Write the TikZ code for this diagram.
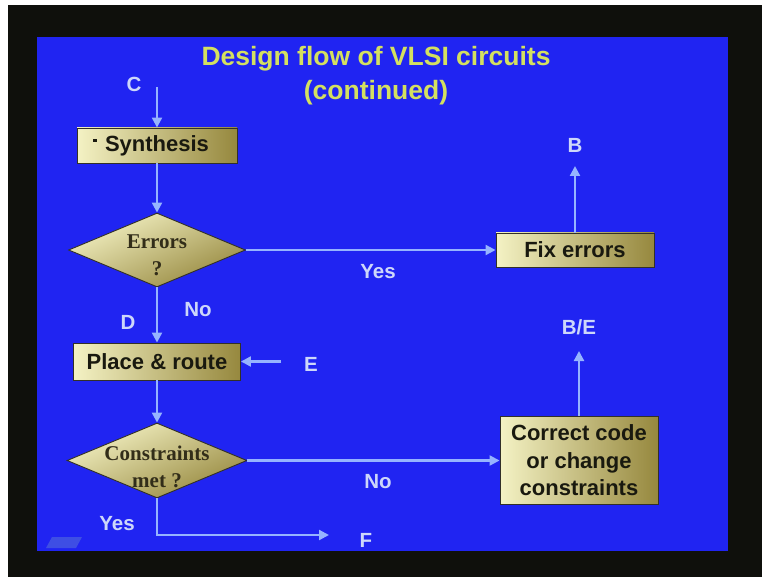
\documentclass[tikz,border=0pt]{standalone}
\usepackage{fontspec}
\setmainfont{Liberation Sans}
\newfontfamily\serifbf{Liberation Serif}
\usetikzlibrary{arrows.meta,shapes.geometric}
\definecolor{bgblack}{RGB}{15,16,12}
\definecolor{slideblue}{RGB}{32,36,242}
\definecolor{titlecol}{RGB}{212,224,96}
\definecolor{labcol}{RGB}{205,215,250}
\definecolor{linecol}{RGB}{150,180,255}
\definecolor{boxlight}{RGB}{244,242,196}
\definecolor{boxmid}{RGB}{224,220,152}
\definecolor{boxdark}{RGB}{150,136,62}
\definecolor{boxedge}{RGB}{50,48,40}
\definecolor{boxtext}{RGB}{25,25,15}
\definecolor{dectext}{RGB}{50,45,25}
\definecolor{logocol}{RGB}{62,78,228}
\tikzset{
  box/.style={rectangle, draw=boxedge, line width=0.9pt,
    left color=boxlight, middle color=boxmid, right color=boxdark,
    inner sep=0pt, align=center, text=boxtext,
    font=\bfseries\fontsize{22}{27.5}\selectfont},
  dec/.style={diamond, draw=boxedge, line width=0.9pt,
    top color=boxlight, bottom color=boxdark, shading angle=25,
    inner sep=0pt},
  dtext/.style={align=center, text=dectext, inner sep=0pt,
    font=\serifbf\bfseries\fontsize{21}{27}\selectfont},
  lab/.style={text=labcol, inner sep=0pt,
    font=\bfseries\fontsize{20.5}{24}\selectfont},
  conn/.style={draw=linecol, line width=2.2pt,
    -{Triangle[length=10pt,width=10pt]}},
}
\begin{document}
\begin{tikzpicture}[x=1pt,y=-1pt]
\useasboundingbox (0,0) rectangle (762,577);
\fill[white] (0,0) rectangle (762,577);
\fill[bgblack] (8,5) rectangle (762,577);
\fill[slideblue] (37,37) rectangle (728,551);
% small logo
\fill[logocol] (46,548) -- (52,537) -- (82,537) -- (76,548) -- cycle;

% title
\node[text=titlecol, align=center, inner sep=0pt,
  font=\bfseries\fontsize{26.5}{34}\selectfont] (title) at (376,76)
  {Design flow of VLSI circuits\\(continued)};

% nodes
\node[box, minimum width=160pt, minimum height=35pt] (synth) at (157,145.5) {Synthesis};
\fill[boxtext] (92.5,139) rectangle (97,142.5);
\node[dec, minimum width=177pt, minimum height=74pt] (errors) at (157,250) {};
\node[dtext] (errorsT) at (157,255) {Errors\\?};
\node[box, minimum width=158pt, minimum height=34pt] (fix) at (575,250) {Fix errors};
\node[box, minimum width=167pt, minimum height=37pt] (place) at (157,361.5) {Place \& route};
\node[dec, minimum width=180pt, minimum height=75pt] (cons) at (157,460.5) {};
\node[dtext] (consT) at (157,467) {Constraints\\met ?};
\node[box, minimum width=158pt, minimum height=88pt] (correct) at (579,460.5)
  {Correct code\\or change\\constraints};

% labels
\node[lab] (lC) at (134,84) {C};
\node[lab] (lB) at (575,145) {B};
\node[lab] (lYes1) at (378,272) {Yes};
\node[lab] (lNo1) at (198,310) {No};
\node[lab] (lD) at (128,322) {D};
\node[lab] (lE) at (311,364) {E};
\node[lab] (lBE) at (579,327) {B/E};
\node[lab] (lNo2) at (378,482) {No};
\node[lab] (lYes2) at (117,524) {Yes};
\node[lab] (lF) at (366,540) {F};

% free ends
\coordinate (cstart) at (157,87);
\coordinate (btip) at (575,166);
\coordinate (estart) at (281,361.5);
\coordinate (betip) at (579,351);
\coordinate (ftip) at (329,535);

% connectors
\draw[conn] (cstart) -- (synth);
\draw[conn] (synth) -- (errors);
\draw[conn] (errors) -- (fix);
\draw[conn] (fix) -- (btip);
\draw[conn] (errors) -- (place);
\draw[conn] (estart) -- (place);
\draw[conn] (place) -- (cons);
\draw[conn] (cons) -- (correct);
\draw[conn] (correct) -- (betip);
\draw[conn] (cons.south) |- (ftip);
\end{tikzpicture}
\end{document}
